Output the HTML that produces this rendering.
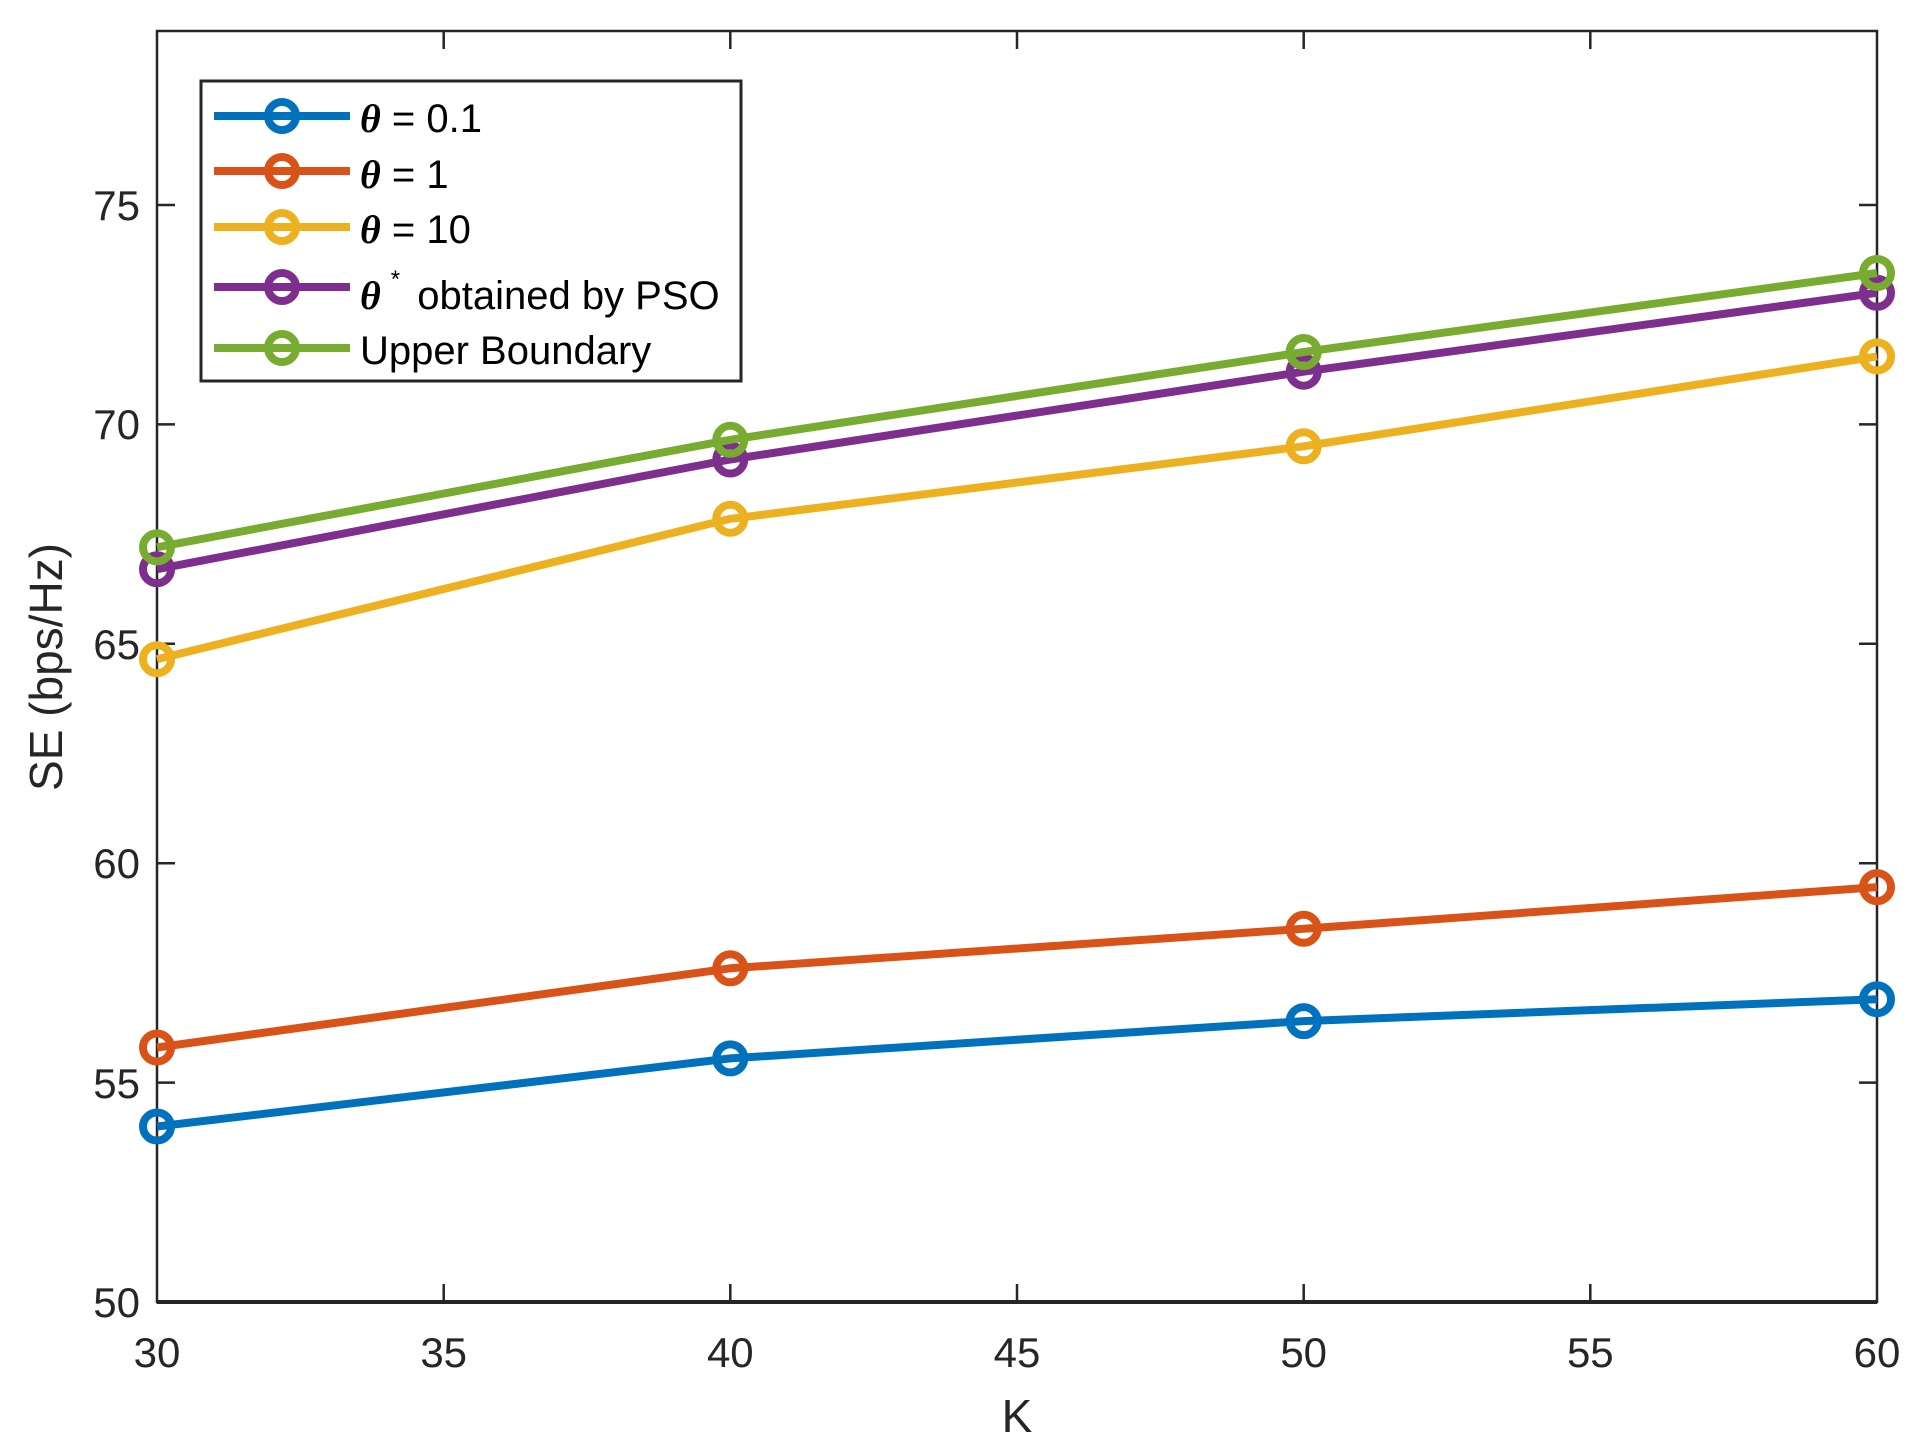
<!DOCTYPE html>
<html><head><meta charset="utf-8"><style>
html,body{margin:0;padding:0;background:#fff;}
svg text{font-family:"Liberation Sans",sans-serif;fill:#262626;}
</style></head><body>
<svg width="1916" height="1449" viewBox="0 0 1916 1449" xmlns="http://www.w3.org/2000/svg">
<rect width="1916" height="1449" fill="#fff"/>
<g stroke="#262626" stroke-width="2.5" fill="none">
<rect x="157" y="31" width="1720" height="1271"/>
<path d="M157,1302H1877" stroke-width="4"/>
<path d="M443.7,1302v-18M730.3,1302v-18M1017,1302v-18M1303.7,1302v-18M1590.3,1302v-18
M443.7,31v18M730.3,31v18M1017,31v18M1303.7,31v18M1590.3,31v18
M157,1082.6h18M157,863.2h18M157,643.8h18M157,424.4h18M157,205h18
M1877,1082.6h-18M1877,863.2h-18M1877,643.8h-18M1877,424.4h-18M1877,205h-18"/>
</g>
<g font-size="42" text-anchor="middle">
<text x="157" y="1367">30</text><text x="443.7" y="1367">35</text><text x="730.3" y="1367">40</text>
<text x="1017" y="1367">45</text><text x="1303.7" y="1367">50</text><text x="1590.3" y="1367">55</text><text x="1877" y="1367">60</text>
</g>
<g font-size="42" text-anchor="end">
<text x="140" y="1317">50</text><text x="140" y="1098">55</text><text x="140" y="878">60</text>
<text x="140" y="659">65</text><text x="140" y="439">70</text><text x="140" y="220">75</text>
</g>
<text x="1017" y="1432" font-size="46" text-anchor="middle">K</text>
<text transform="translate(62,667) rotate(-90)" font-size="46" text-anchor="middle">SE (bps/Hz)</text>
<g fill="none" stroke-width="8" stroke-linejoin="round">
<g stroke="#0072BD"><polyline points="157,1126.5 730.3,1058.4 1303.7,1021.1 1877,999.2"/>
<circle cx="157" cy="1126.5" r="14"/><circle cx="730.3" cy="1058.4" r="14"/><circle cx="1303.7" cy="1021.1" r="14"/><circle cx="1877" cy="999.2" r="14"/></g>
<g stroke="#D95319"><polyline points="157,1047.5 730.3,968.3 1303.7,928.8 1877,887.1"/>
<circle cx="157" cy="1047.5" r="14"/><circle cx="730.3" cy="968.3" r="14"/><circle cx="1303.7" cy="928.8" r="14"/><circle cx="1877" cy="887.1" r="14"/></g>
<g stroke="#EDB120"><polyline points="157,659.2 730.3,518.8 1303.7,446.3 1877,356.4"/>
<circle cx="157" cy="659.2" r="14"/><circle cx="730.3" cy="518.8" r="14"/><circle cx="1303.7" cy="446.3" r="14"/><circle cx="1877" cy="356.4" r="14"/></g>
<g stroke="#7E2F8E"><polyline points="157,569.2 730.3,459.5 1303.7,371.7 1877,292.8"/>
<circle cx="157" cy="569.2" r="14"/><circle cx="730.3" cy="459.5" r="14"/><circle cx="1303.7" cy="371.7" r="14"/><circle cx="1877" cy="292.8" r="14"/></g>
<g stroke="#77AC30"><polyline points="157,547.3 730.3,439.8 1303.7,352 1877,273"/>
<circle cx="157" cy="547.3" r="14"/><circle cx="730.3" cy="439.8" r="14"/><circle cx="1303.7" cy="352" r="14"/><circle cx="1877" cy="273" r="14"/></g>
</g>
<rect x="201" y="81" width="540" height="300" fill="#fff" stroke="#262626" stroke-width="3"/>
<g fill="none" stroke-width="8">
<g stroke="#0072BD"><path d="M214,116h136"/><circle cx="282" cy="116" r="14"/></g>
<g stroke="#D95319"><path d="M214,171h136"/><circle cx="282" cy="171" r="14"/></g>
<g stroke="#EDB120"><path d="M214,227h136"/><circle cx="282" cy="227" r="14"/></g>
<g stroke="#7E2F8E"><path d="M214,287h136"/><circle cx="282" cy="287" r="14"/></g>
<g stroke="#77AC30"><path d="M214,348h136"/><circle cx="282" cy="348" r="14"/></g>
</g>
<g font-size="40">
<text x="360" y="132" style="fill:#000"><tspan font-family="Liberation Serif" font-style="italic" font-weight="bold">θ</tspan> = 0.1</text>
<text x="360" y="188" style="fill:#000"><tspan font-family="Liberation Serif" font-style="italic" font-weight="bold">θ</tspan> = 1</text>
<text x="360" y="243" style="fill:#000"><tspan font-family="Liberation Serif" font-style="italic" font-weight="bold">θ</tspan> = 10</text>
<text x="360" y="309" style="fill:#000"><tspan font-family="Liberation Serif" font-style="italic" font-weight="bold">θ</tspan><tspan dx="10" dy="-22" font-size="24">*</tspan><tspan dx="6" dy="22"> obtained by PSO</tspan></text>
<text x="360" y="364" style="fill:#000">Upper Boundary</text>
</g>
</svg>
</body></html>
